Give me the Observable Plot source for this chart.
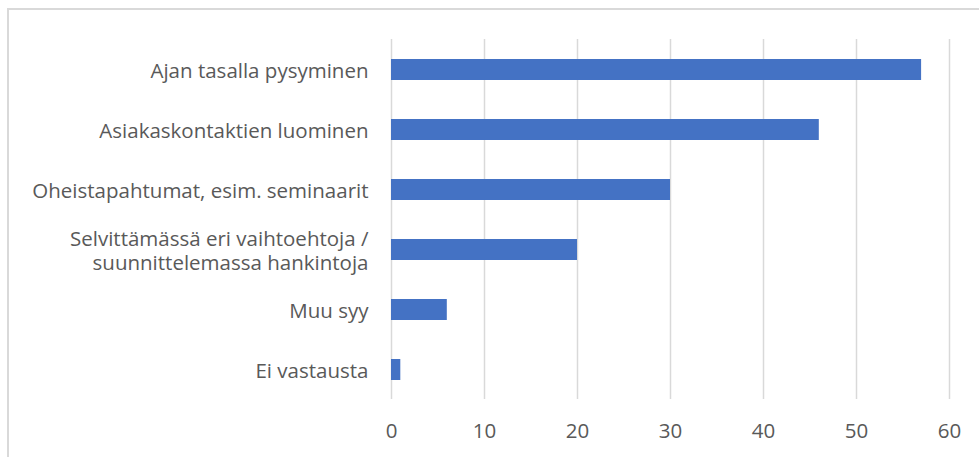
<!DOCTYPE html>
<html>
<head>
<meta charset="utf-8">
<script src="https://cdn.jsdelivr.net/npm/d3@7"></script>
<script src="https://cdn.jsdelivr.net/npm/@observablehq/plot@0.6"></script>
<style>
  html, body { margin: 0; padding: 0; background: #fff; }
  #wrap { position: relative; width: 979px; height: 457px; overflow: hidden; }
  #border { position: absolute; left: 7px; top: 8px; width: 1100px; height: 600px; border: 2px solid #d9d9d9; box-sizing: border-box; }
  #chart { position: absolute; left: 0; top: 0; }
</style>
</head>
<body>
<div id="wrap"><div id="border"></div><div id="chart"></div></div>
<script>
const categories = [
  "Ajan tasalla pysyminen",
  "Asiakaskontaktien luominen",
  "Oheistapahtumat, esim. seminaarit",
  "Selvittämässä eri vaihtoehtoja /\nsuunnittelemassa hankintoja",
  "Muu syy",
  "Ei vastausta"
];
const values = [57, 46, 30, 20, 6, 1];
const xTicks = [0, 10, 20, 30, 40, 50, 60];

const data = categories.map((c, i) => ({category: c, value: values[i]}));

const chart = Plot.plot({
  width: 979,
  height: 457,
  marginLeft: 391,
  marginRight: 30,
  marginTop: 39,
  marginBottom: 58,
  style: { fontFamily: "'Open Sans', 'Noto Sans', sans-serif", fontSize: "20.5px", color: "#595959", background: "transparent" },
  x: { domain: [0, 60], ticks: xTicks, label: null },
  y: { domain: categories, paddingInner: 0.65, paddingOuter: 0.325, label: null },
  marks: [
    Plot.gridX(xTicks, { stroke: "#d9d9d9", strokeOpacity: 1, strokeWidth: 1.5 }),
    Plot.barX(data, { x: "value", y: "category", fill: "#4472C4" }),
    Plot.axisX({ ticks: xTicks, tickSize: 0, tickPadding: 24, fill: "#595959", fontSize: 20.5, label: null }),
    Plot.axisY({ tickSize: 0, tickPadding: 23, fill: "#595959", fontSize: 20.5, lineHeight: 1.2, label: null })
  ]
});
document.getElementById("chart").appendChild(chart);
</script>
</body>
</html>
